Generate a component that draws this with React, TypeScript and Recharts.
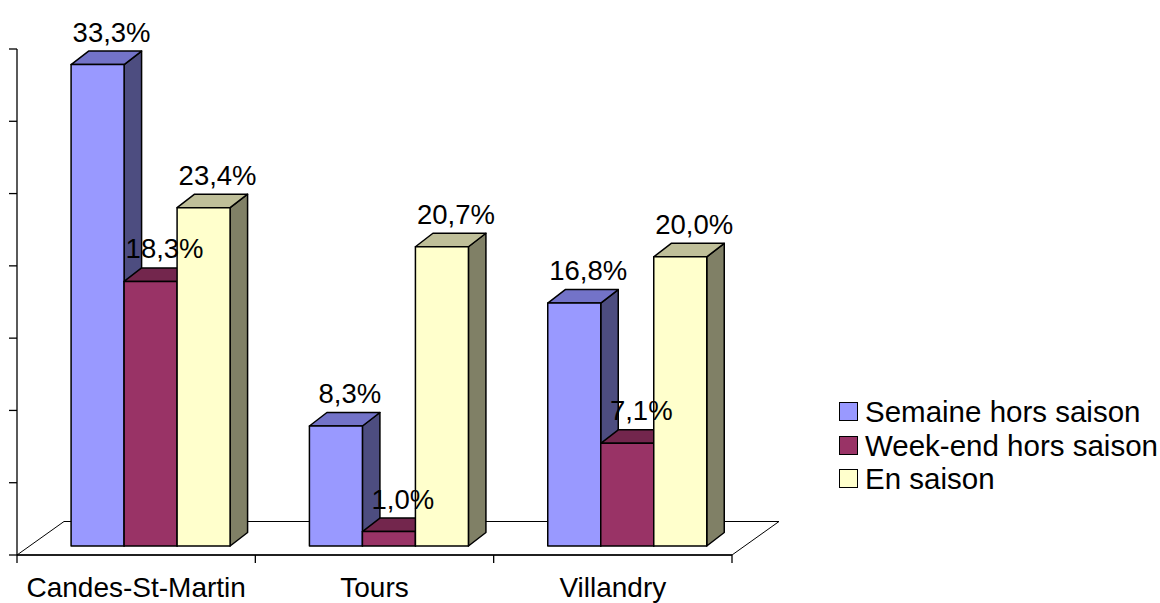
import React from "react";
import {
  BarChart,
  Bar,
  XAxis,
  YAxis,
  ReferenceArea,
  LabelList,
} from "recharts";

const categories = ["Candes-St-Martin", "Tours", "Villandry"];
const semaine = [33.3, 8.3, 16.8];
const weekend = [18.3, 1.0, 7.1];
const enSaison = [23.4, 20.7, 20.0];
const seriesNames = ["Semaine hors saison", "Week-end hors saison", "En saison"];
const yTicks = [0, 5, 10, 15, 20, 25, 30, 35];

const FONT = "'Liberation Sans', Arial, sans-serif";

// bar face colours: front, top, side
const palette = [
  { front: "#9999FF", top: "#7373C8", side: "#4D4D80" },
  { front: "#993366", top: "#73264D", side: "#4D1A33" },
  { front: "#FFFFCC", top: "#BFBF99", side: "#808066" },
];

// 3D offsets
const SX = 15; // bar shift right from front plane
const SY = -9; // bar shift up from front plane
const DX = 17.5; // bar depth x
const DY = 13.5; // bar depth y
const FLOOR_DX = 47;
const FLOOR_DY = 33.5;

const chartData = categories.map((c, i) => ({
  name: c,
  semaine: semaine[i],
  weekend: weekend[i],
  enSaison: enSaison[i],
}));

const fmt = (v: number) => v.toFixed(1).replace(".", ",") + "%";

const makeShape = (idx: number) => (props: any) => {
  const { x, y, width, height } = props;
  const c = palette[idx];
  const fx = x + SX;
  const fy = y + SY;
  const w = width;
  const h = height;
  const top = `${fx},${fy} ${fx + DX},${fy - DY} ${fx + w + DX},${fy - DY} ${fx + w},${fy}`;
  const side = `${fx + w},${fy} ${fx + w + DX},${fy - DY} ${fx + w + DX},${fy + h - DY} ${fx + w},${fy + h}`;
  return (
    <g stroke="#000" strokeWidth={1.5} strokeLinejoin="round">
      <polygon points={side} fill={c.side} />
      <polygon points={top} fill={c.top} />
      <rect x={fx} y={fy} width={w} height={h} fill={c.front} />
    </g>
  );
};

const renderLabel = (props: any) => {
  const { x, y, width, value } = props;
  return (
    <text
      x={x + SX + width / 2 + 14}
      y={y + SY - 23}
      textAnchor="middle"
      fontSize={27.5}
      fontFamily={FONT}
      fill="#000"
    >
      {fmt(value)}
    </text>
  );
};

const Floor = (props: any) => {
  const { x, y, width, height } = props;
  const by = y + height;
  const pts = `${x},${by} ${x + width},${by} ${x + width + FLOOR_DX},${by - FLOOR_DY} ${x + FLOOR_DX},${by - FLOOR_DY}`;
  return <polygon points={pts} fill="#fff" stroke="#000" strokeWidth={1} />;
};

const NoTick = () => <g />;

// category label plus tick marks on the band boundaries
const CatTick = (props: any) => {
  const { x, y, payload, index, width } = props;
  const band = (width || 715) / categories.length;
  const left = x - band / 2;
  const isLast = index === categories.length - 1;
  return (
    <g>
      <line x1={left} y1={y} x2={left} y2={y + 8} stroke="#000" strokeWidth={1.3} />
      {isLast && (
        <line x1={left + band} y1={y} x2={left + band} y2={y + 8} stroke="#000" strokeWidth={1.3} />
      )}
      <text x={x} y={y + 42} textAnchor="middle" fontSize={28} fontFamily={FONT} fill="#000">
        {payload.value}
      </text>
    </g>
  );
};

const keys = ["semaine", "weekend", "enSaison"];
const axisStyle = { stroke: "#000", strokeWidth: 1.3 };

export default function App() {
  return (
    <div style={{ position: "absolute", left: 0, top: 0, width: 1160, height: 603, background: "#fff" }}>
      <BarChart
        width={1160}
        height={603}
        data={chartData}
        margin={{ top: 49, right: 428, bottom: 0, left: 0 }}
        barCategoryGap="16.4%"
        barGap={0}
      >
        <XAxis
          dataKey="name"
          axisLine={axisStyle}
          tickLine={false}
          tickSize={0}
          tickMargin={0}
          height={48}
          tick={<CatTick />}
          interval={0}
        />
        <YAxis
          domain={[0, 35]}
          ticks={yTicks}
          interval={0}
          tick={<NoTick />}
          tickSize={8}
          width={17}
          axisLine={axisStyle}
          tickLine={axisStyle}
        />
        <ReferenceArea
          x1={categories[0]}
          x2={categories[categories.length - 1]}
          y1={0}
          y2={35}
          ifOverflow="visible"
          shape={<Floor />}
        />
        {keys.map((k, i) => (
          <Bar
            key={k}
            dataKey={k}
            name={seriesNames[i]}
            fill={palette[i].front}
            shape={makeShape(i)}
            isAnimationActive={false}
          >
            <LabelList dataKey={k} content={renderLabel} />
          </Bar>
        ))}
      </BarChart>
      <div
        style={{
          position: "absolute",
          left: 839,
          top: 395,
          fontFamily: FONT,
          fontSize: 29.5,
          lineHeight: "33.5px",
          color: "#000",
          whiteSpace: "nowrap",
        }}
      >
        {seriesNames.map((n, i) => (
          <div key={n} style={{ display: "flex", alignItems: "center" }}>
            <span
              style={{
                display: "inline-block",
                width: 17,
                height: 17,
                background: palette[i].front,
                border: "1.5px solid #000",
                marginRight: 7,
              }}
            />
            <span>{n}</span>
          </div>
        ))}
      </div>
    </div>
  );
}
